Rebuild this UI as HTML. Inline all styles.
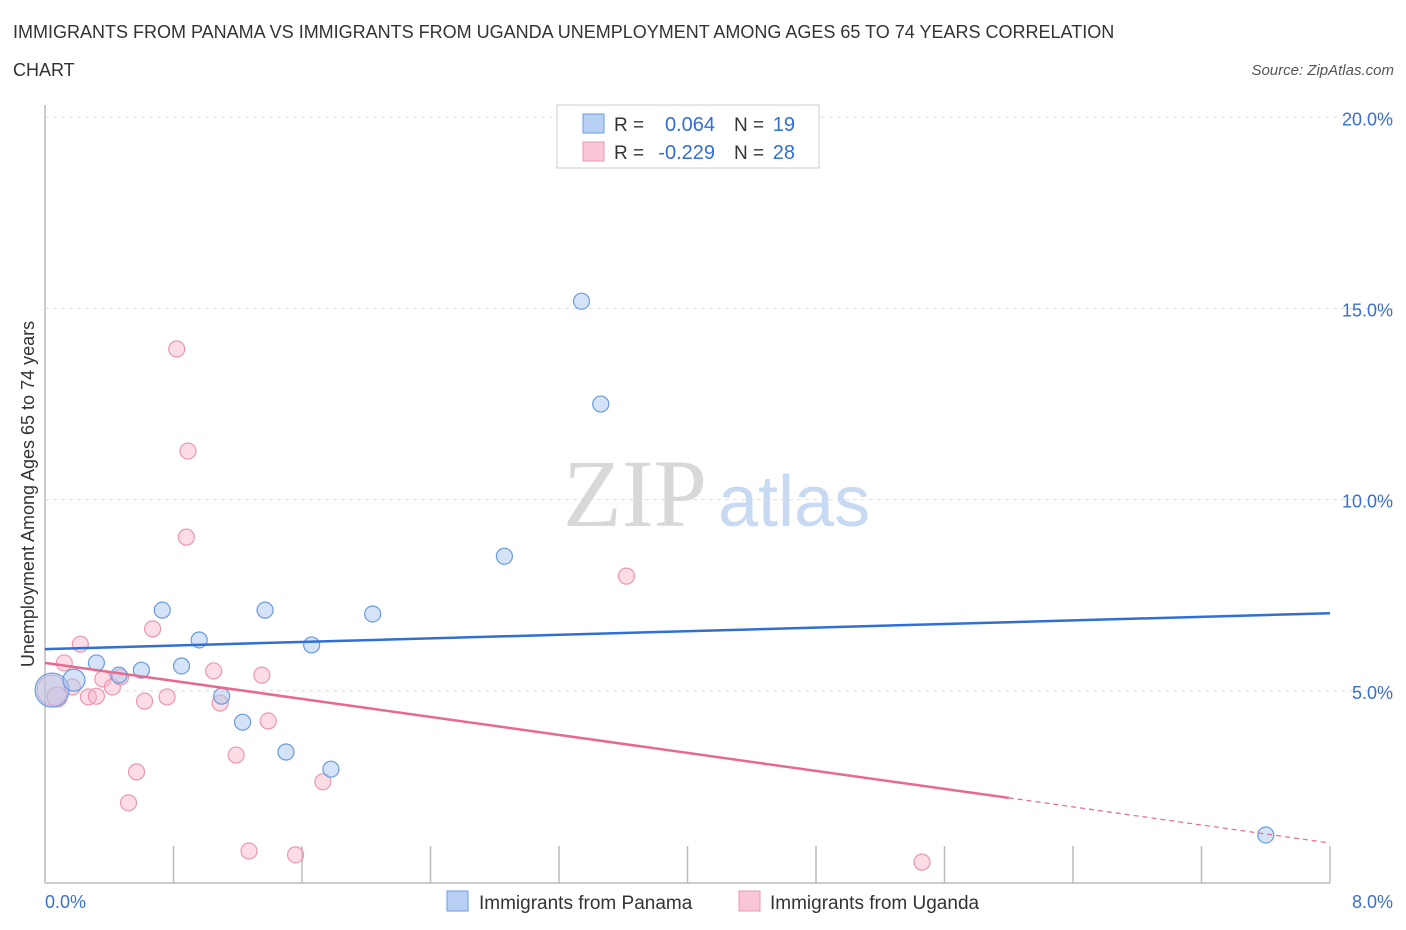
<!DOCTYPE html>
<html><head><meta charset="utf-8"><style>
body{margin:0;background:#fff;font-family:"Liberation Sans",sans-serif}
#c{position:relative;width:1406px;height:930px}
.t{position:absolute;left:13px;font-size:18px;color:#333;letter-spacing:0}
</style></head><body>
<div id="c">
<div class="t" style="top:22px">IMMIGRANTS FROM PANAMA VS IMMIGRANTS FROM UGANDA UNEMPLOYMENT AMONG AGES 65 TO 74 YEARS CORRELATION</div>
<div class="t" style="top:60px">CHART</div>
<div style="position:absolute;right:12px;top:62px;font-size:15px;font-style:italic;color:#555">Source: ZipAtlas.com</div>
<svg id="s" width="1406" height="930" style="position:absolute;left:0;top:0"></svg>
</div>
<script>
const panamaX=[0.044,0.18,0.32,0.46,0.60,0.73,0.85,0.96,1.10,1.23,1.37,1.50,1.66,1.78,2.04,2.86,3.34,3.46,7.60];
const panamaY=[5.02,5.28,5.73,5.41,5.54,7.11,5.65,6.33,4.86,4.18,7.11,3.40,6.20,2.95,7.01,8.52,15.19,12.5,1.23];
const panamaR=[17,11,8,8,8,8,8,8,8,8,8,8,8,8,8,8,8,8,8];
const ugandaX=[0.044,0.075,0.12,0.17,0.22,0.27,0.32,0.36,0.42,0.47,0.52,0.57,0.62,0.67,0.76,0.82,0.88,0.89,1.05,1.09,1.19,1.27,1.35,1.39,1.56,1.73,3.62,5.46];
const ugandaY=[5.02,4.84,5.73,5.10,6.22,4.84,4.86,5.31,5.10,5.36,2.07,2.88,4.73,6.62,4.84,13.94,9.02,11.27,5.52,4.68,3.32,0.81,5.41,4.21,0.71,2.62,8.00,0.52];
const ugandaR=[15,10,8,8,8,8,8,8,8,8,8,8,8,8,8,8,8,8,8,8,8,8,8,8,8,8,8,8];
const panamaTrend=[[0,6.09],[8,7.03]];
const ugandaTrend=[[0,5.73],[6.0,2.20],[8,1.02]];
const yTicks=[5,10,15,20];
const xTickLabels=["0.0%","8.0%"];
const legendR=["0.064","-0.229"];
const legendN=["19","28"];
const X=v=>45+v/8*1285, Y=v=>882-v/20*764.7;
const s=document.getElementById('s');const NS="http://www.w3.org/2000/svg";
function el(t,a,txt){const e=document.createElementNS(NS,t);for(const k in a)e.setAttribute(k,a[k]);if(txt!=null)e.textContent=txt;s.appendChild(e);return e;}
yTicks.forEach(v=>{const g=el('line',{x1:45,x2:1395,y1:Y(v),y2:Y(v),stroke:'#ddd','stroke-dasharray':'4,4'});
const t=el('text',{x:1393,y:Y(v)+8,'text-anchor':'end','font-size':18,fill:'#3a6fd0','font-family':'Liberation Sans'},v.toFixed(1)+'%');});
let a=el('line',{x1:45,x2:45,y1:105,y2:883,stroke:'#bbb','stroke-width':1.5});
a=el('line',{x1:45,x2:1330,y1:883,y2:883,stroke:'#bbb','stroke-width':1.5});
for(let i=1;i<=10;i++){const t=el('line',{x1:X(i*0.8),x2:X(i*0.8),y1:846,y2:883,stroke:'#bbb','stroke-width':1.5});}
let tl=el('text',{x:45,y:908,'font-size':18,fill:'#3a6fd0','font-family':'Liberation Sans'},xTickLabels[0]);
tl=el('text',{x:1393,y:908,'text-anchor':'end','font-size':18,fill:'#3a6fd0','font-family':'Liberation Sans'},xTickLabels[1]);
tl=el('text',{x:34,y:494,'text-anchor':'middle','font-size':18,fill:'#333','font-family':'Liberation Sans',transform:'rotate(-90 34 494)'},'Unemployment Among Ages 65 to 74 years');
tl=el('text',{x:635,y:526,'text-anchor':'middle','font-size':96,fill:'#d8d8d8','font-family':'Liberation Serif'},'ZIP');
tl=el('text',{x:718,y:526,'font-size':72,fill:'#c8daf2','font-family':'Liberation Sans'},'atlas');
ugandaX.forEach((v,i)=>{const c=el('circle',{cx:X(v),cy:Y(ugandaY[i]),r:ugandaR[i],fill:'rgba(248,180,200,0.45)',stroke:'#eb97b0','stroke-width':1.2});});
panamaX.forEach((v,i)=>{const c=el('circle',{cx:X(v),cy:Y(panamaY[i]),r:panamaR[i],fill:'rgba(170,200,240,0.5)',stroke:'#6a9be0','stroke-width':1.2});});
let l=el('line',{x1:X(panamaTrend[0][0]),y1:Y(panamaTrend[0][1]),x2:X(panamaTrend[1][0]),y2:Y(panamaTrend[1][1]),stroke:'#2f6fd6','stroke-width':2.5});
l=el('line',{x1:X(ugandaTrend[0][0]),y1:Y(ugandaTrend[0][1]),x2:X(ugandaTrend[1][0]),y2:Y(ugandaTrend[1][1]),stroke:'#e8688f','stroke-width':2.5});
l=el('line',{x1:X(ugandaTrend[1][0]),y1:Y(ugandaTrend[1][1]),x2:X(ugandaTrend[2][0]),y2:Y(ugandaTrend[2][1]),stroke:'#e8688f','stroke-width':1.2,'stroke-dasharray':'5,4'});
// legend box
let b=el('rect',{x:557,y:105,width:262,height:63,fill:'#fff',stroke:'#ccc'});
const fills=['#b8d0f4','#f9c6d5'],strokes=['#6a9be0','#eb97b0'];
[0,1].forEach(i=>{const y=114+i*28;
let r=el('rect',{x:583,y:y,width:21,height:19,fill:fills[i],stroke:strokes[i]});
let t=el('text',{x:614,y:y+17,'font-size':19,fill:'#333','font-family':'Liberation Sans'},'R = ');
t=el('text',{x:715,y:y+17,'text-anchor':'end','font-size':20,fill:'#2f6fd6','font-family':'Liberation Sans'},legendR[i]);
t=el('text',{x:734,y:y+17,'font-size':19,fill:'#333','font-family':'Liberation Sans'},'N = ');
t=el('text',{x:795,y:y+17,'text-anchor':'end','font-size':20,fill:'#2f6fd6','font-family':'Liberation Sans'},legendN[i]);});
// bottom legend
[['Immigrants from Panama',447,479],['Immigrants from Uganda',739,770]].forEach((d,i)=>{
let r=el('rect',{x:d[1],y:891,width:21,height:20,fill:fills[i],stroke:strokes[i]});
let t=el('text',{x:d[2],y:909,'font-size':19,fill:'#333','font-family':'Liberation Sans'},d[0]);});
</script>
</body></html>
